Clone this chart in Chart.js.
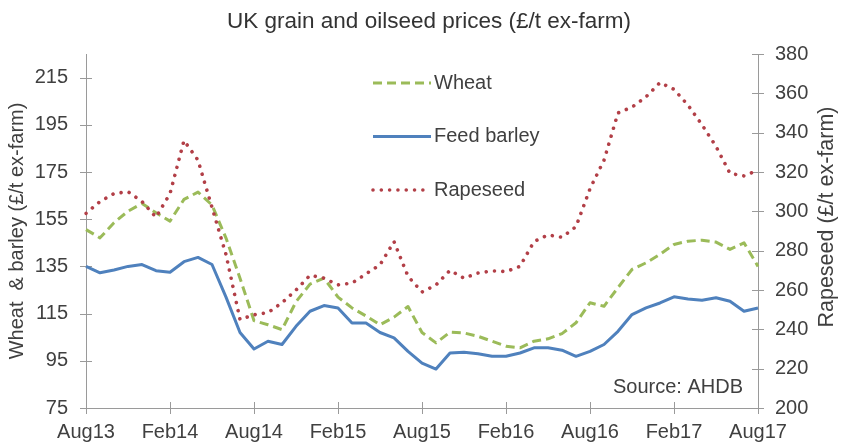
<!DOCTYPE html>
<html>
<head>
<meta charset="utf-8">
<title>UK grain and oilseed prices</title>
<script src="https://cdn.jsdelivr.net/npm/chart.js@4/dist/chart.umd.min.js"></script>
<style>
  html, body { margin: 0; padding: 0; background: #ffffff; }
  #wrap { width: 841px; height: 444px; position: relative; }
</style>
</head>
<body>
<div id="wrap"><canvas id="chart"></canvas></div>
<script>
// Monthly categories, Aug 2013 to Aug 2017
const months = [
  "Aug13", "Sep13", "Oct13", "Nov13", "Dec13", "Jan14", "Feb14", "Mar14", "Apr14", "May14", "Jun14", "Jul14",
  "Aug14", "Sep14", "Oct14", "Nov14", "Dec14", "Jan15", "Feb15", "Mar15", "Apr15", "May15", "Jun15", "Jul15",
  "Aug15", "Sep15", "Oct15", "Nov15", "Dec15", "Jan16", "Feb16", "Mar16", "Apr16", "May16", "Jun16", "Jul16",
  "Aug16", "Sep16", "Oct16", "Nov16", "Dec16", "Jan17", "Feb17", "Mar17", "Apr17", "May17", "Jun17", "Jul17",
  "Aug17"
];

// Ex-farm prices, £/t
const wheat = [
  150.6, 147.1, 153.5, 158.4, 161.7, 157.7, 154.2, 163.4, 166.5, 161,
  147, 130, 112, 110.3, 108.2, 120, 127.5, 130, 122, 117.4,
  114, 110.3, 113.5, 118, 107, 102.6, 107.1, 106.8, 105.4, 103.3,
  101.2, 100.5, 103.3, 104.3, 106.5, 111.1, 119.6, 118.1, 126, 133.7,
  136.5, 140.1, 144.3, 145.7, 146.1, 145.3, 142.2, 145, 135
];
const feedBarley = [
  135, 132.3, 133.5, 135, 135.8, 133.2, 132.5, 137, 138.8, 135.8,
  122, 107, 100, 103.3, 101.9, 109.6, 116, 118.4, 117.4, 111,
  111, 107, 104.7, 99, 94, 91.5, 98.3, 98.6, 98, 96.9,
  96.9, 98.3, 100.5, 100.5, 99.5, 96.9, 99, 101.9, 107.5, 114.6,
  117.4, 119.5, 122.1, 121.2, 120.7, 121.7, 120.2, 116, 117.4
];
const rapeseed = [
  299, 305, 309, 310, 305, 297, 309, 336, 326, 302,
  278, 245, 247.4, 248.5, 253.5, 260, 267.5, 266, 262.6, 263.5,
  268.2, 272.8, 284.6, 267, 259, 262.6, 270, 266, 268.6, 269.7,
  269.4, 272, 284.6, 288, 286.8, 292.2, 311.5, 326, 350, 353,
  358.2, 365.5, 362, 354, 344, 333, 319.3, 318, 321
];

// Axis tick values
const leftTicks = [75, 95, 115, 135, 155, 175, 195, 215];
const rightTicks = [200, 220, 240, 260, 280, 300, 320, 340, 360, 380];
const labelEvery = 6;

const FONT = "'Liberation Sans', Arial, Helvetica, sans-serif";
const TEXT = '#404040';
const AXIS = '#9a9a9a';

Chart.defaults.font.family = FONT;
Chart.defaults.color = TEXT;

// Cross tick marks, in-plot legend, source note and right-hand axis title
const decorations = {
  id: 'decorations',
  beforeDatasetsDraw(chart, args, opts) {
    const { ctx, chartArea: a, scales } = chart;
    const h = opts.tickHalf;
    ctx.save();
    ctx.strokeStyle = AXIS;
    ctx.lineWidth = 1;
    ctx.beginPath();
    scales.y.ticks.forEach(t => {
      const py = Math.round(scales.y.getPixelForValue(t.value)) + 0.5;
      ctx.moveTo(a.left - h, py); ctx.lineTo(a.left + h, py);
    });
    scales.y1.ticks.forEach(t => {
      const py = Math.round(scales.y1.getPixelForValue(t.value)) + 0.5;
      ctx.moveTo(a.right - h, py); ctx.lineTo(a.right + h, py);
    });
    months.forEach((m, i) => {
      if (i % labelEvery !== 0) return;
      const px = Math.round(scales.x.getPixelForValue(i)) + 0.5;
      ctx.moveTo(px, a.bottom - h); ctx.lineTo(px, a.bottom + h);
    });
    ctx.stroke();
    ctx.restore();
  },
  afterDatasetsDraw(chart, args, opts) {
    const { ctx, chartArea: a, scales } = chart;
    ctx.save();
    ctx.font = `${opts.fontSize}px ${FONT}`;
    ctx.fillStyle = TEXT;
    ctx.textBaseline = 'middle';
    chart.data.datasets.forEach((ds, i) => {
      const y = opts.y + i * opts.rowGap;
      const x0 = opts.x, x1 = opts.x + opts.sample;
      ctx.save();
      ctx.strokeStyle = ds.borderColor;
      ctx.lineWidth = ds.borderWidth;
      ctx.lineCap = ds.borderCapStyle || 'butt';
      ctx.setLineDash(ds.borderDash || []);
      ctx.beginPath();
      ctx.moveTo(x0, y); ctx.lineTo(x1, y);
      ctx.stroke();
      ctx.restore();
      ctx.textAlign = 'left';
      ctx.fillText(ds.label, x1 + opts.textGap, y);
    });
    ctx.textAlign = 'right';
    ctx.fillText(opts.source, a.right - opts.sourceInset, a.bottom - opts.sourceRise);

    // right axis title, reading bottom to top
    const r = scales.y1;
    ctx.save();
    ctx.font = `${opts.rightTitleSize}px ${FONT}`;
    ctx.translate(r.right - opts.rightTitleInset, (a.top + a.bottom) / 2 - opts.rightTitleRise);
    ctx.rotate(-Math.PI / 2);
    ctx.textAlign = 'center';
    ctx.fillText(opts.rightTitle, 0, 0);
    ctx.restore();
    ctx.restore();
  }
};

new Chart(document.getElementById('chart'), {
  type: 'line',
  data: {
    labels: months,
    datasets: [
      {
        label: 'Wheat',
        data: wheat,
        yAxisID: 'y',
        borderColor: '#9BBB59',
        borderWidth: 3,
        borderDash: [9, 5],
        order: 3
      },
      {
        label: 'Feed barley',
        data: feedBarley,
        yAxisID: 'y',
        borderColor: '#4F81BD',
        borderWidth: 3,
        order: 2
      },
      {
        label: 'Rapeseed',
        data: rapeseed,
        yAxisID: 'y1',
        borderColor: '#B23F47',
        borderWidth: 3.6,
        borderDash: [0.01, 8.3],
        borderCapStyle: 'round',
        order: 1
      }
    ]
  },
  options: {
    responsive: true,
    maintainAspectRatio: false,
    animation: false,
    layout: { padding: { left: 17, right: 0, top: 0, bottom: 0 } },
    elements: {
      point: { radius: 0, hoverRadius: 0 },
      line: { tension: 0, fill: false, borderJoinStyle: 'round' }
    },
    plugins: {
      legend: { display: false },
      tooltip: { enabled: false },
      title: {
        display: true,
        text: 'UK grain and oilseed prices (£/t ex-farm)',
        color: '#333333',
        font: { size: 22.5, weight: 'normal', lineHeight: 1.2 },
        padding: { top: 8.5, bottom: 18.5 }
      },
      decorations: {
        tickHalf: 6,
        x: 373, y: 83, rowGap: 53.5, sample: 58, textGap: 3, fontSize: 20,
        source: 'Source: AHDB', sourceInset: 15, sourceRise: 21,
        rightTitle: 'Rapeseed (£/t ex-farm)', rightTitleSize: 21.5,
        rightTitleInset: 14, rightTitleRise: 14
      }
    },
    scales: {
      x: {
        type: 'category',
        offset: false,
        grid: { display: false, drawTicks: false },
        border: { display: true, color: AXIS, width: 1 },
        ticks: {
          autoSkip: false,
          maxRotation: 0,
          minRotation: 0,
          padding: 12,
          font: { size: 20 },
          color: TEXT,
          callback: (v, i) => (i % labelEvery === 0 ? months[i] : '')
        },
        afterFit: s => { s.height = 36; }
      },
      y: {
        position: 'left',
        min: 75,
        max: 225,
        grid: { display: false, drawTicks: false },
        border: { display: true, color: AXIS, width: 1 },
        ticks: { padding: 18, font: { size: 20 }, color: TEXT },
        afterBuildTicks: s => { s.ticks = leftTicks.map(v => ({ value: v })); },
        title: {
          display: true,
          text: 'Wheat  & barley (£/t ex-farm)',
          color: TEXT,
          font: { size: 20 },
          padding: { top: -12, bottom: 0 }
        },
        afterFit: s => { s.width = 69; }
      },
      y1: {
        position: 'right',
        min: 200,
        max: 380,
        grid: { display: false, drawTicks: false },
        border: { display: true, color: AXIS, width: 1 },
        ticks: { padding: 17, font: { size: 20 }, color: TEXT },
        afterBuildTicks: s => { s.ticks = rightTicks.map(v => ({ value: v })); },
        title: { display: false },
        afterFit: s => { s.width = 83; }
      }
    }
  },
  plugins: [decorations]
});
</script>
</body>
</html>
